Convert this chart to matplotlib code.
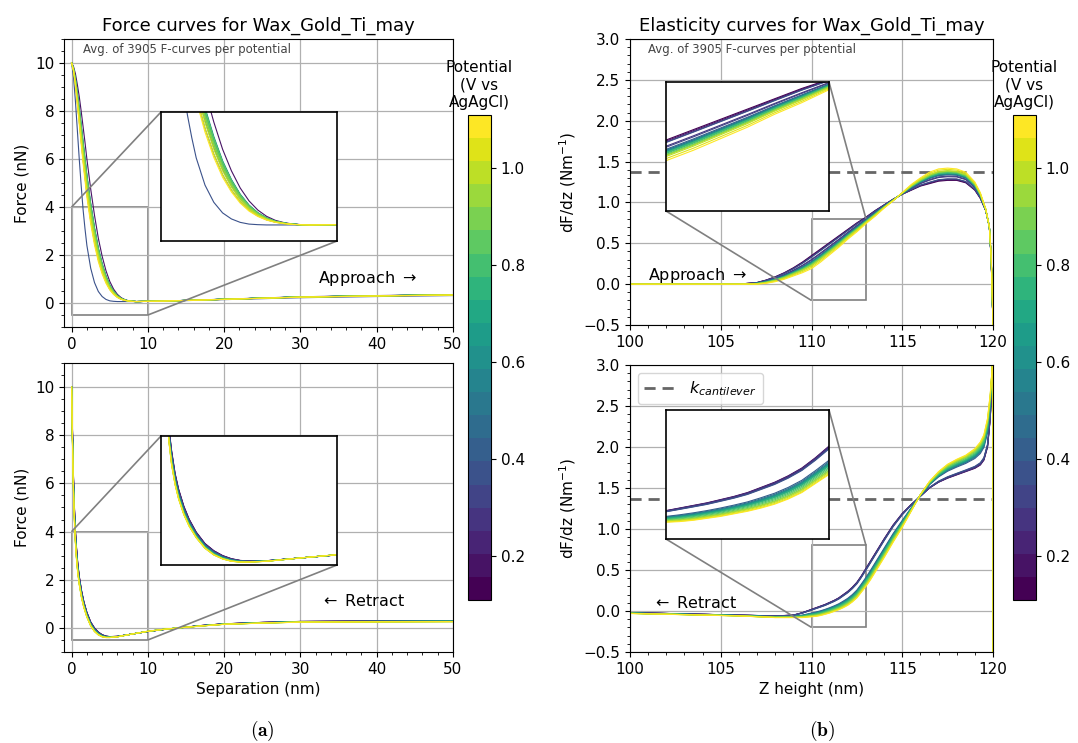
import numpy as np
import matplotlib.pyplot as plt
from matplotlib.colors import Normalize
from matplotlib.cm import ScalarMappable
from mpl_toolkits.axes_grid1.inset_locator import mark_inset

# potentials (V vs AgAgCl), one averaged curve each
potential = [0.11, 0.16, 0.21, 0.26, 0.31, 0.36, 0.41, 0.46, 0.51, 0.56, 0.61,
             0.66, 0.71, 0.76, 0.81, 0.86, 0.91, 0.96, 1.01, 1.06, 1.11]

# --- force, approach: edge curves (left-most / right-most) ---
sep_app = [0, 0.25, 0.5, 0.75, 1, 1.25, 1.5, 1.75, 2, 2.5, 3, 3.5, 4, 4.5, 5, 5.5,
           6, 6.5, 7, 7.5, 8, 8.5, 9, 10, 12, 15, 20, 25, 30, 40, 50]
f_app_left = [10, 9.4, 8.4, 7.2, 6.0, 4.9, 3.9, 3.1, 2.4, 1.45, 0.85, 0.48, 0.27, 0.15,
              0.09, 0.07, 0.06, 0.06, 0.06, 0.06, 0.06, 0.06, 0.07, 0.07, 0.08, 0.10,
              0.14, 0.18, 0.22, 0.27, 0.31]
f_app_right = [10, 9.85, 9.55, 9.1, 8.6, 8.0, 7.35, 6.7, 6.0, 4.75, 3.65, 2.7, 1.95, 1.35,
               0.9, 0.58, 0.36, 0.22, 0.14, 0.09, 0.07, 0.06, 0.06, 0.07, 0.08, 0.11,
               0.16, 0.21, 0.26, 0.31, 0.35]
w_f_app = [0.75, 1.0, 0.7, 0.72, 0.8, 0.0, 0.6, 0.68, 0.72, 0.75, 0.82,
           0.8, 0.74, 0.72, 0.76, 0.8, 0.74, 0.7, 0.66, 0.6, 0.56]

# --- force, retract ---
sep_ret = [0, 0.1, 0.2, 0.3, 0.45, 0.6, 0.8, 1.0, 1.3, 1.6, 2.0, 2.5, 3.0, 3.5, 4.0,
           4.5, 5.0, 6, 7, 8, 10, 12, 14, 17, 20, 25, 30, 40, 50]
f_ret_lo = [10, 8.4, 6.8, 5.6, 4.3, 3.5, 2.7, 2.15, 1.55, 1.1, 0.65, 0.25, 0.0, -0.17,
            -0.28, -0.34, -0.36, -0.35, -0.3, -0.25, -0.15, -0.07, 0.0, 0.1, 0.17,
            0.23, 0.27, 0.29, 0.3]
f_ret_hi = [10, 7.9, 6.2, 5.0, 3.8, 3.0, 2.3, 1.8, 1.25, 0.85, 0.45, 0.08, -0.15, -0.29,
            -0.37, -0.4, -0.4, -0.37, -0.31, -0.25, -0.14, -0.06, 0.0, 0.08, 0.15,
            0.2, 0.24, 0.25, 0.26]
w_f_ret = [0.0, 0.08, 0.1, 0.18, 0.25, 0.3, 0.42, 0.45, 0.5, 0.55, 0.6,
           0.66, 0.7, 0.72, 0.8, 0.85, 0.88, 0.95, 1.0, 0.92, 0.97]

# --- elasticity, approach ---
z_app = [100, 104, 106, 107, 107.5, 108, 108.5, 109, 109.5, 110, 110.25, 110.5, 110.75,
         111, 111.25, 111.5, 111.75, 112, 112.25, 112.5, 112.75, 113, 113.5, 114, 114.5,
         115, 115.5, 116, 116.5, 117, 117.5, 118, 118.5, 119, 119.3, 119.6, 119.8, 119.9,
         119.95, 120]
e_app_lo = [0, 0, 0.0, 0.02, 0.05, 0.09, 0.14, 0.2, 0.27, 0.35, 0.39, 0.43, 0.47,
            0.51, 0.55, 0.59, 0.63, 0.67, 0.71, 0.75, 0.785, 0.82, 0.9, 0.97, 1.04,
            1.1, 1.15, 1.2, 1.23, 1.26, 1.27, 1.27, 1.24, 1.15, 1.05, 0.9, 0.7, 0.3,
            -0.1, -0.5]
e_app_hi = [0, 0, 0.0, 0.0, 0.01, 0.03, 0.06, 0.1, 0.14, 0.19, 0.23, 0.27, 0.315,
            0.36, 0.405, 0.45, 0.5, 0.55, 0.595, 0.64, 0.69, 0.74, 0.83, 0.93, 1.02,
            1.12, 1.22, 1.3, 1.37, 1.41, 1.42, 1.41, 1.37, 1.25, 1.12, 0.92, 0.7, 0.35,
            -0.05, -0.5]
w_e_app = [0.0, 0.05, 0.1, 0.3, 0.35, 0.12, 0.45, 0.5, 0.5, 0.55, 0.55,
           0.6, 0.6, 0.65, 0.62, 0.7, 0.72, 0.75, 0.8, 0.9, 1.0]

# --- elasticity, retract ---
z_ret = [100, 104, 106, 107, 108, 109, 109.5, 110, 110.25, 110.5, 110.75, 111, 111.25,
         111.5, 111.75, 112, 112.25, 112.5, 112.75, 113, 113.25, 113.5, 114, 114.5, 115,
         115.5, 116, 116.5, 117, 117.5, 118, 118.5, 119, 119.3, 119.5, 119.7, 119.85,
         119.95, 120, 120]
e_ret_lo = [-0.02, -0.04, -0.05, -0.055, -0.06, -0.05, -0.02, 0.02, 0.04, 0.06, 0.08,
            0.105, 0.13, 0.16, 0.2, 0.24, 0.29, 0.35, 0.43, 0.52, 0.61, 0.7, 0.88,
            1.05, 1.19, 1.3, 1.4, 1.5, 1.57, 1.62, 1.66, 1.7, 1.74, 1.78, 1.84, 2.0,
            2.35, 2.85, 3.2, -0.5]
e_ret_hi = [-0.03, -0.05, -0.06, -0.07, -0.08, -0.08, -0.08, -0.07, -0.065, -0.055,
            -0.04, -0.025, -0.005, 0.015, 0.04, 0.07, 0.11, 0.16, 0.23, 0.3, 0.38, 0.47,
            0.65, 0.84, 1.02, 1.22, 1.42, 1.58, 1.7, 1.79, 1.85, 1.9, 1.98, 2.06, 2.15,
            2.35, 2.65, 2.95, 3.2, -0.5]
w_e_ret = [0.0, 0.03, 0.06, 0.02, 0.08, 0.1, 0.5, 0.55, 0.6, 0.6, 0.62,
           0.65, 0.68, 0.7, 0.75, 0.8, 0.85, 0.88, 0.92, 0.97, 1.0]

k_cantilever = 1.37
n_curves = 3905

cmap = plt.get_cmap("viridis", len(potential))
norm = Normalize(vmin=min(potential), vmax=max(potential))

W, H = 1078, 743
fig = plt.figure(figsize=(W / 100, H / 100), dpi=100)


def fbox(x0, y0, x1, y1):
    # pixel box -> figure fraction
    return [x0 / W, 1 - y1 / H, (x1 - x0) / W, (y1 - y0) / H]


def draw_curves(ax, x, lo, hi, weights):
    lo = np.asarray(lo)
    hi = np.asarray(hi)
    for p, w in zip(potential, weights):
        ax.plot(x, lo + w * (hi - lo), color=cmap(norm(p)), lw=0.8)


def add_inset(ax, box, x, lo, hi, weights, xlim, ylim, locs):
    axins = fig.add_axes(fbox(*box))
    draw_curves(axins, x, lo, hi, weights)
    axins.set_xlim(*xlim)
    axins.set_ylim(*ylim)
    axins.set_xticks([])
    axins.set_yticks([])
    for s in axins.spines.values():
        s.set_linewidth(1.2)
    mark_inset(ax, axins, loc1=locs[0], loc2=locs[1], fc="none", ec="0.5", lw=1.2)
    return axins


def style(ax):
    ax.grid(True, which="major", color="#b0b0b0", lw=0.9)
    ax.minorticks_on()
    ax.tick_params(labelsize=11)


# ---- (a) force curves ----
ax1 = fig.add_axes(fbox(64, 39, 453, 327))
draw_curves(ax1, sep_app, f_app_left, f_app_right, w_f_app)
ax1.set_xlim(-1, 50)
ax1.set_ylim(-1, 11)
style(ax1)
ax1.set_ylabel("Force (nN)", fontsize=11)
ax1.set_title("Force curves for Wax_Gold_Ti_may", fontsize=13)
ax1.text(0.05, 0.985, f"Avg. of {n_curves} F-curves per potential", transform=ax1.transAxes,
         fontsize=8.5, color="#444444", va="top")
ax1.text(32.3, 1.0, "Approach $\\rightarrow$", fontsize=11.5, va="center")
add_inset(ax1, (161, 112, 337, 241), sep_app, f_app_left, f_app_right, w_f_app,
          (0, 10), (-0.5, 4), (2, 4))

ax2 = fig.add_axes(fbox(64, 363, 453, 652))
draw_curves(ax2, sep_ret, f_ret_lo, f_ret_hi, w_f_ret)
ax2.set_xlim(-1, 50)
ax2.set_ylim(-1, 11)
style(ax2)
ax2.set_ylabel("Force (nN)", fontsize=11)
ax2.set_xlabel("Separation (nm)", fontsize=11)
ax2.text(32.5, 1.1, "$\\leftarrow$ Retract", fontsize=11.5, va="center")
add_inset(ax2, (161, 436, 337, 565), sep_ret, f_ret_lo, f_ret_hi, w_f_ret,
          (0, 10), (-0.5, 4), (2, 4))

# ---- (b) elasticity curves ----
ax3 = fig.add_axes(fbox(630, 39, 993, 325))
ax3.axhline(k_cantilever, color="#666666", ls="--", lw=2, dashes=(4, 2.5))
draw_curves(ax3, z_app, e_app_lo, e_app_hi, w_e_app)
ax3.set_xlim(100, 120)
ax3.set_ylim(-0.5, 3.0)
style(ax3)
ax3.set_ylabel("dF/dz (Nm$^{-1}$)", fontsize=11)
ax3.set_title("Elasticity curves for Wax_Gold_Ti_may", fontsize=13)
ax3.text(0.05, 0.985, f"Avg. of {n_curves} F-curves per potential", transform=ax3.transAxes,
         fontsize=8.5, color="#444444", va="top")
ax3.text(101.0, 0.1, "Approach $\\rightarrow$", fontsize=11.5, va="center")
add_inset(ax3, (666, 82, 829, 211), z_app, e_app_lo, e_app_hi, w_e_app,
          (110, 113), (-0.2, 0.8), (1, 3))

ax4 = fig.add_axes(fbox(630, 365, 993, 652))
ax4.axhline(k_cantilever, color="#666666", ls="--", lw=2, dashes=(4, 2.5),
            label="$k_{cantilever}$")
draw_curves(ax4, z_ret, e_ret_lo, e_ret_hi, w_e_ret)
ax4.set_xlim(100, 120)
ax4.set_ylim(-0.5, 3.0)
style(ax4)
ax4.set_ylabel("dF/dz (Nm$^{-1}$)", fontsize=11)
ax4.set_xlabel("Z height (nm)", fontsize=11)
ax4.text(101.2, 0.1, "$\\leftarrow$ Retract", fontsize=11.5, va="center")
ax4.legend(loc="upper left", fontsize=11.5)
add_inset(ax4, (666, 410, 829, 539), z_ret, e_ret_lo, e_ret_hi, w_e_ret,
          (110, 113), (-0.2, 0.8), (1, 3))

# ---- colorbars ----
sm = ScalarMappable(norm=norm, cmap=cmap)
for x0 in (468, 1013):
    cax = fig.add_axes(fbox(x0, 115, x0 + 23, 600))
    cb = fig.colorbar(sm, cax=cax, ticks=[0.2, 0.4, 0.6, 0.8, 1.0])
    cb.ax.tick_params(labelsize=11)
    cax.set_title("Potential\n(V vs\nAgAgCl)", fontsize=11)

fig.text(262 / W, 1 - 731 / H, r"$\mathbf{(a)}$", math_fontfamily="cm", fontsize=14,
         ha="center", va="center")
fig.text(822 / W, 1 - 731 / H, r"$\mathbf{(b)}$", math_fontfamily="cm", fontsize=14,
         ha="center", va="center")

fig.savefig("out.png", dpi=100)
